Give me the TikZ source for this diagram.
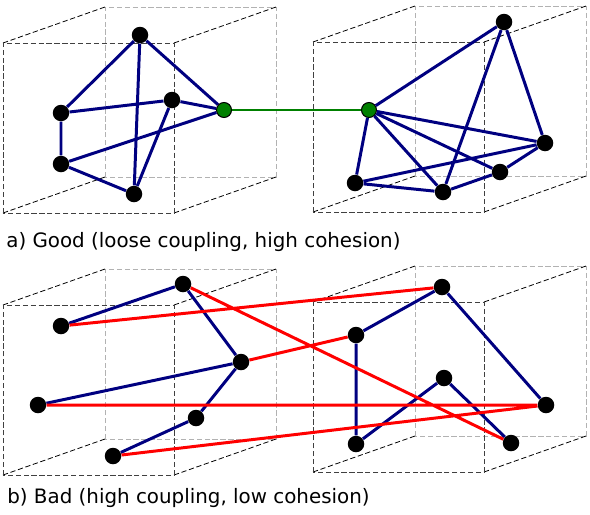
\documentclass[tikz,border=0pt]{standalone}
\usepackage{fontspec}
\setmainfont{DejaVu Sans}
\definecolor{edgeblue}{RGB}{0,0,128}
\definecolor{portgreen}{RGB}{0,128,0}
\begin{document}
\begin{tikzpicture}[x=0.02cm,y=-0.02cm,
  dot/.style={circle,fill=black,inner sep=0pt,minimum size=0.33cm},
  port/.style={circle,draw=black,fill=portgreen,line width=0.6pt,inner sep=0pt,minimum size=0.3cm},
  inner/.style={draw=edgeblue,line width=1.7pt},
  outer/.style={draw=red,line width=1.7pt},
  link/.style={draw=portgreen,line width=1.4pt},
  front/.style={draw=black!75,dashed,dash pattern=on 3pt off 1.5pt,line width=0.55pt},
  back/.style={draw=black!30,dashed,dash pattern=on 3pt off 1.5pt,line width=0.55pt},
  depth/.style={draw=black,dash pattern=on 3pt off 1.5pt,line width=0.45pt},
  caption/.style={font=\fontsize{11.3}{13}\selectfont,anchor=base west,inner sep=0pt}]
  \useasboundingbox (0,0) rectangle (590,514);
  % First, the four modules as open boxes
  \foreach \bx/\by in {3/213,313/212,3/475,313/472} {
    \draw[back] (\bx+102,\by-36) rectangle ++(171,-170);
    \draw[depth] (\bx,\by) -- ++(102,-36) (\bx+171,\by) -- ++(102,-36)
                 (\bx,\by-170) -- ++(102,-36) (\bx+171,\by-170) -- ++(102,-36);
    \draw[front] (\bx,\by) rectangle ++(171,-170);
  }
  % Second, good design: two cohesive modules, one link
  \node[dot] (a1) at (140,35) {};
  \node[dot] (a2) at (61,113) {};
  \node[dot] (a3) at (172,100) {};
  \node[dot] (a4) at (61,164) {};
  \node[dot] (a5) at (134,194) {};
  \node[dot] (b1) at (504,22) {};
  \node[dot] (b2) at (545,143) {};
  \node[dot] (b3) at (500,172) {};
  \node[dot] (b4) at (443,192) {};
  \node[dot] (b5) at (355,183) {};
  \draw[inner] (a1) -- (a2) (a1) -- (a5) (a2) -- (a3) (a2) -- (a4)
               (a3) -- (a5) (a4) -- (a5);
  \draw[inner] (b1) -- (b4) (b1) -- (b2) (b2) -- (b5) (b2) -- (b3)
               (b3) -- (b4) (b4) -- (b5);
  \node[port] (g1) at (224,110) {};
  \node[port] (g2) at (369,110) {};
  \draw[inner] (g1) -- (a1) (g1) -- (a3) (g1) -- (a4);
  \draw[inner] (g2) -- (b1) (g2) -- (b2) (g2) -- (b3) (g2) -- (b4) (g2) -- (b5);
  \draw[link] (g1) -- (g2);
  \node[caption] (capa) at (6,247) {a) Good (loose coupling, high cohesion)};
  % Third, bad design: many links, little inside
  \node[dot] (c1) at (183,284) {};
  \node[dot] (c2) at (61,326) {};
  \node[dot] (c3) at (241,362) {};
  \node[dot] (c4) at (38,405) {};
  \node[dot] (c5) at (196,418) {};
  \node[dot] (c6) at (113,456) {};
  \node[dot] (d1) at (442,287) {};
  \node[dot] (d2) at (356,335) {};
  \node[dot] (d3) at (444,378) {};
  \node[dot] (d4) at (546,405) {};
  \node[dot] (d5) at (356,444) {};
  \node[dot] (d6) at (511,443) {};
  \draw[inner] (c1) -- (c2) (c1) -- (c3) (c3) -- (c4) (c3) -- (c5) (c5) -- (c6);
  \draw[inner] (d1) -- (d2) (d1) -- (d4) (d2) -- (d5) (d5) -- (d3) (d3) -- (d6);
  \draw[outer] (c2) -- (d1) (c1) -- (d6) (c3) -- (d2) (c4) -- (d4) (c6) -- (d4);
  \node[caption] (capb) at (7,503) {b) Bad (high coupling, low cohesion)};
\end{tikzpicture}
\end{document}
